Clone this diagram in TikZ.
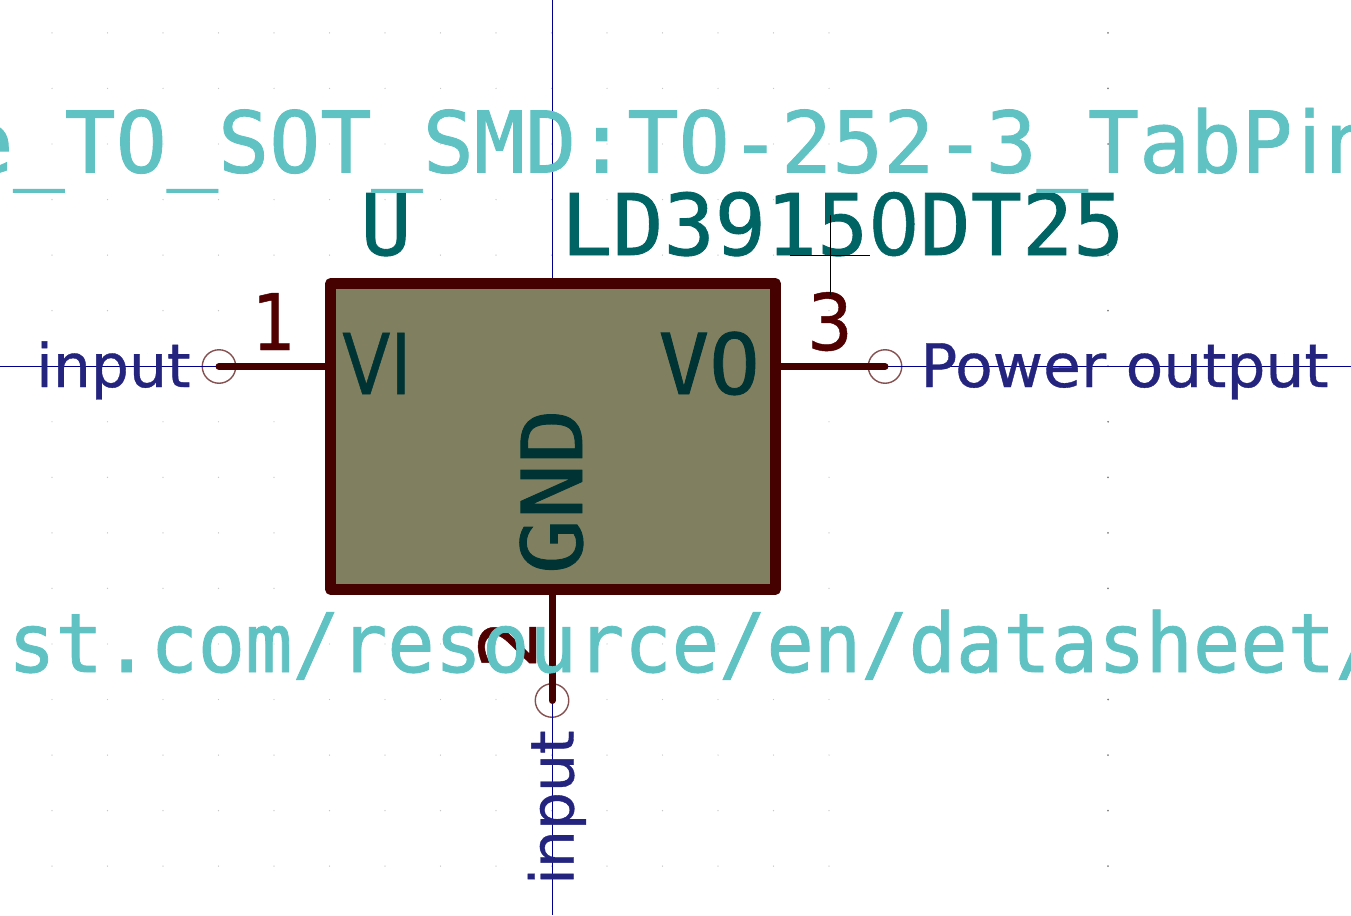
\documentclass[tikz,border=0pt]{standalone}
\usepackage{fontspec}
\setmainfont[FakeBold=0.6]{DejaVu Sans}
\newfontfamily\monofam[FakeBold=1.0]{DejaVu Sans Mono}
\definecolor{gridgray}{HTML}{C8C8C8}
\definecolor{axisblue}{HTML}{00008C}
\definecolor{bodyfill}{HTML}{808060}
\definecolor{bodyline}{HTML}{450000}
\definecolor{pinnum}{HTML}{500000}
\definecolor{pinname}{HTML}{003434}
\definecolor{refteal}{HTML}{006464}
\definecolor{fieldcyan}{HTML}{60C2C2}
\definecolor{netnavy}{HTML}{24247F}
\definecolor{ringbrown}{HTML}{845050}

\tikzset{
  axis/.style={axisblue, line width=1pt},
  crossline/.style={black, line width=0.9pt},
  pinline/.style={bodyline, line width=7pt, line cap=round},
  ring/.style={circle, draw=ringbrown, line width=1.4pt, minimum size=33.5pt, inner sep=0pt},
  netlabel/.style={text=netnavy, font=\fontsize{60}{60}\selectfont, inner sep=0pt},
  pinnumber/.style={text=pinnum, font=\fontsize{78}{78}\selectfont, inner sep=0pt},
  pinlabel/.style={text=pinname, inner sep=0pt},
  reflabel/.style={text=refteal, font=\fontsize{85}{85}\monofam, inner sep=0pt},
  fieldlabel/.style={text=fieldcyan, font=\fontsize{85}{85}\monofam, inner sep=0pt},
}

\begin{document}
\begin{tikzpicture}[x=1pt, y=-1pt]
            \useasboundingbox (0,0) rectangle (1351,915);

            % Grid
            \foreach \gx in {-1,...,14} {
                \foreach \gy in {-2,...,13} {
                    \fill[gridgray] (52+55.5*\gx,144+55.55*\gy) circle (0.7pt);
                }
            }
            \foreach \gy in {-2,...,13} {
                \fill[gray] (1108,144+55.55*\gy) circle (1pt);
            }

            % Define pin ends and body
            \node[ring] (P1) at (219,366.5) {};
            \node[ring] (P3) at (885,366.5) {};
            \node[ring] (P2) at (552,700.5) {};
            \node[draw=bodyline, fill=bodyfill, line width=11pt, line join=round,
                minimum width=444.5pt, minimum height=306pt, inner sep=0pt] (body) at (553,436.5) {};
            \coordinate (leftedge) at (0,366.5);
            \coordinate (rightedge) at (1351,366.5);
            \coordinate (topedge) at (552,0);
            \coordinate (bottomedge) at (552,915);
            \coordinate (valtop) at (830.5,215);
            \coordinate (valbot) at (830.5,295);
            \coordinate (valleft) at (790,255.5);
            \coordinate (valright) at (870,255.5);

            % Draw axes
            \draw[axis] (leftedge) -- (P1.center);
            \draw[axis] (P3.center) -- (rightedge);
            \draw[axis] (topedge) -- (body.north -| topedge);
            \draw[axis] (P2.center) -- (bottomedge);

            % Draw pins
            \draw[pinline] (body.west |- P1) -- (P1.center);
            \draw[pinline] (body.east |- P3) -- (P3.center);
            \draw[pinline] (body.south -| P2) -- (P2.center);

            % Pin numbers and names
            \node[pinnumber, anchor=base] (N1) at (274,350) {\scalebox{0.88}[1]{1}};
            \node[pinnumber, anchor=base] (N3) at (830,350) {\scalebox{0.92}[1]{3}};
            \node[pinnumber, anchor=base, rotate=90] (N2) at (536,644) {2};
            \node[pinlabel, anchor=base west, font=\fontsize{84}{84}\selectfont] (VI) at (342,394) {\scalebox{0.84}[1]{VI}};
            \node[pinlabel, anchor=base east, font=\fontsize{84}{84}\monofam] (VO) at (760,394) {VO};
            \node[pinlabel, anchor=base, rotate=90, font=\fontsize{84}{84}\monofam] (GND) at (582,491.5) {\scalebox{1.09}[1]{GND}};

            % Net labels
            \node[netlabel, anchor=base west] (netin) at (36,387) {input};
            \node[netlabel, anchor=base west] (netout) at (920,387) {\scalebox{1.025}[1]{Power output}};
            \node[netlabel, anchor=base west, rotate=90] (netgnd) at (573.5,885) {input};

            % Reference and value
            \node[reflabel, anchor=base] (ref) at (386,255) {U};
            \node[reflabel, anchor=base west] (val) at (561,255) {LD3915\scalebox{0.95}[1]{\rmfamily 0}DT25};
            \draw[crossline] (valtop) -- (valbot);
            \draw[crossline] (valleft) -- (valright);

            % Footprint and datasheet
            \node[fieldlabel, anchor=base west] (footprint) at (-38,172.5) {e\_TO\_SOT\_SMD:TO-252-3\_TabP\kern 5pt{\rmfamily i}\kern 3pt n};
            \node[fieldlabel, anchor=base west, font=\fontsize{82}{82}\monofam] (datasheet) at (8,672) {\scalebox{0.96}[1]{st.com/resource/en/datasheet/}};
        \end{tikzpicture}
\end{document}
